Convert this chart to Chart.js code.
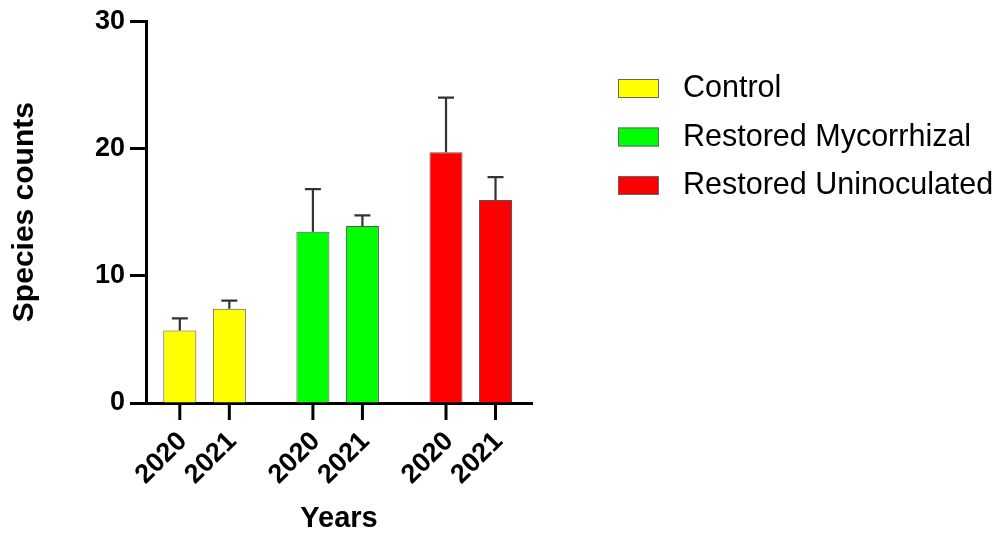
<!DOCTYPE html>
<html>
<head>
<meta charset="utf-8">
<script src="https://cdn.jsdelivr.net/npm/chart.js@4.4.1/dist/chart.umd.min.js"></script>
<style>
  html, body { margin: 0; padding: 0; background: #fff; }
  #wrap { width: 1000px; height: 540px; }
</style>
</head>
<body>
<div id="wrap"><canvas id="chart"></canvas></div>
<script>
// Treatment groups and their bar colours
const groups = ['Control', 'Restored Mycorrhizal', 'Restored Uninoculated'];
const groupColors = ['#FFFF00', '#00FF00', '#FF0000'];

// Sampling years (one bar per year inside each group)
const years = ['2020', '2021'];

// Mean species counts per group, by year
const counts2020 = [5.7, 13.45, 19.7];
const counts2021 = [7.4, 13.9, 15.95];

// Standard deviations (drawn as upward error bars)
const sd2020 = [0.95, 3.35, 4.3];
const sd2021 = [0.65, 0.85, 1.8];

// Y axis tick values
const yTicks = [0, 10, 20, 30];

const seriesValues = [counts2020, counts2021];
const seriesErrors = [sd2020, sd2021];

Chart.defaults.font.family = "'Liberation Sans', Arial, sans-serif";
Chart.defaults.color = '#000';

// Upward error bars with caps, plus the per-bar year ticks and rotated year labels
const barExtras = {
  id: 'barExtras',
  afterDatasetsDraw(chart) {
    const ctx = chart.ctx;
    const yScale = chart.scales.y;
    const axisY = chart.chartArea.bottom;
    ctx.save();
    chart.data.datasets.forEach((ds, di) => {
      const meta = chart.getDatasetMeta(di);
      meta.data.forEach((bar, i) => {
        const v = seriesValues[di][i];
        const e = seriesErrors[di][i];
        const yTop = yScale.getPixelForValue(v);
        const yErr = yScale.getPixelForValue(v + e);
        ctx.strokeStyle = '#333';
        ctx.lineWidth = 2.2;
        ctx.beginPath();
        ctx.moveTo(bar.x, yTop);
        ctx.lineTo(bar.x, yErr);
        ctx.moveTo(bar.x - 8, yErr);
        ctx.lineTo(bar.x + 8, yErr);
        ctx.stroke();

        // tick mark under the bar
        ctx.strokeStyle = '#000';
        ctx.lineWidth = 3;
        ctx.beginPath();
        ctx.moveTo(bar.x, axisY);
        ctx.lineTo(bar.x, axisY + 17);
        ctx.stroke();

        // rotated year label
        ctx.save();
        ctx.translate(bar.x + 3, axisY + 34);
        ctx.rotate(-Math.PI / 4);
        ctx.font = "bold 27px 'Liberation Sans', Arial, sans-serif";
        ctx.fillStyle = '#000';
        ctx.textAlign = 'right';
        ctx.textBaseline = 'middle';
        ctx.fillText(ds.label, 0, 0);
        ctx.restore();
      });
    });
    ctx.restore();
  }
};

// Group legend on the right-hand side
const groupLegend = {
  id: 'groupLegend',
  afterDraw(chart) {
    const ctx = chart.ctx;
    ctx.save();
    groups.forEach((g, i) => {
      const cy = 88 + i * 48.5;
      ctx.fillStyle = groupColors[i];
      ctx.fillRect(618, cy - 9, 41, 19);
      ctx.strokeStyle = '#666';
      ctx.lineWidth = 1;
      ctx.strokeRect(618.5, cy - 8.5, 40, 18);
      ctx.fillStyle = '#000';
      ctx.font = "30.5px 'Liberation Sans', Arial, sans-serif";
      ctx.textAlign = 'left';
      ctx.textBaseline = 'middle';
      ctx.fillText(g, 683, cy + 1);
    });
    ctx.restore();
  }
};

const datasets = years.map((yr, di) => ({
  label: yr,
  data: seriesValues[di].map((v, i) => ({ x: i, y: v })),
  backgroundColor: groupColors,
  borderColor: '#555',
  borderWidth: 1,
  categoryPercentage: 0.744,
  barPercentage: 0.667
}));

new Chart(document.getElementById('chart'), {
  type: 'bar',
  data: { datasets },
  plugins: [barExtras, groupLegend],
  options: {
    responsive: true,
    maintainAspectRatio: false,
    animation: false,
    layout: { padding: { left: 0, top: 19, right: 468, bottom: 0 } },
    plugins: {
      legend: { display: false },
      tooltip: { enabled: false }
    },
    scales: {
      x: {
        type: 'linear',
        min: -0.44,
        max: 2.46,
        offset: false,
        z: 1,
        afterBuildTicks(scale) {
          scale.ticks = groups.map((g, i) => ({ value: i }));
        },
        afterFit(scale) { scale.height = 137; },
        ticks: { display: false },
        grid: { display: false },
        border: { display: true, color: '#000', width: 3 },
        title: {
          display: true,
          text: 'Years',
          font: { size: 29, weight: 'bold' },
          color: '#000',
          padding: { top: 0, bottom: 4 }
        }
      },
      y: {
        min: 0,
        max: 30,
        afterBuildTicks(scale) {
          scale.ticks = yTicks.map(v => ({ value: v }));
        },
        afterFit(scale) { scale.width = 146; },
        ticks: {
          font: { size: 27, weight: 'bold' },
          color: '#000',
          padding: 5
        },
        grid: {
          display: true,
          drawOnChartArea: false,
          drawTicks: true,
          tickLength: 16,
          tickWidth: 3,
          tickColor: '#000',
          color: '#000'
        },
        border: { display: true, color: '#000', width: 3 },
        title: {
          display: true,
          text: 'Species counts',
          font: { size: 30, weight: 'bold' },
          color: '#000',
          padding: { top: 7, bottom: 0 }
        }
      }
    }
  }
});
</script>
</body>
</html>
